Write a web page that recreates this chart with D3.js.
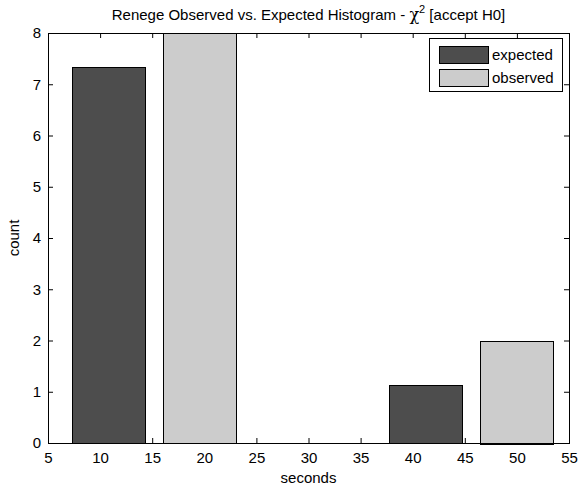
<!DOCTYPE html>
<html>
<head>
<meta charset="utf-8">
<script src="https://cdn.jsdelivr.net/npm/d3@7"></script>
<style>
  body { margin: 0; background: #fff; }
  text { font-family: "Liberation Sans", Arial, sans-serif; fill: #000; font-size: 15px; }
</style>
</head>
<body>
<div id="chart"></div>
<script>
// bar centres (seconds) and counts
var seriesNames = ['expected', 'observed'];
var expectedX = [10.8, 41.2];
var expectedCount = [7.33, 1.13];
var observedX = [19.5, 50];
var observedCount = [8, 2];
var barWidth = 7;
var xTicks = [5, 10, 15, 20, 25, 30, 35, 40, 45, 50, 55];
var yTicks = [0, 1, 2, 3, 4, 5, 6, 7, 8];
var colors = ['#4d4d4d', '#cccccc'];

var width = 579, height = 488;
var mLeft = 48, mRight = 569, mTop = 33, mBottom = 443;

var svg = d3.select('#chart').append('svg')
  .attr('width', width).attr('height', height);

var x = d3.scaleLinear().domain([5, 55]).range([mLeft, mRight]);
var y = d3.scaleLinear().domain([0, 8]).range([mBottom, mTop]);

var series = [
  { name: seriesNames[0], xs: expectedX, vals: expectedCount, color: colors[0] },
  { name: seriesNames[1], xs: observedX, vals: observedCount, color: colors[1] }
];

// axes, MATLAB style: ticks inside on all four sides (drawn under the bars)
var tickLen = 5;
var fmt = d3.format('d');

var xAxis = svg.append('g').attr('transform', 'translate(0,' + mBottom + ')')
  .call(d3.axisBottom(x).tickValues(xTicks).tickFormat(fmt).tickSize(-tickLen).tickSizeOuter(0).tickPadding(9));
var xTop = svg.append('g').attr('transform', 'translate(0,' + mTop + ')')
  .call(d3.axisTop(x).tickValues(xTicks).tickFormat('').tickSize(-tickLen).tickSizeOuter(0));
var yAxis = svg.append('g').attr('transform', 'translate(' + mLeft + ',0)')
  .call(d3.axisLeft(y).tickValues(yTicks).tickFormat(fmt).tickSize(-tickLen).tickSizeOuter(0).tickPadding(7));
var yRight = svg.append('g').attr('transform', 'translate(' + mRight + ',0)')
  .call(d3.axisRight(y).tickValues(yTicks).tickFormat('').tickSize(-tickLen).tickSizeOuter(0));

[xAxis, xTop, yAxis, yRight].forEach(function(g) {
  g.select('.domain').remove();
  g.selectAll('.tick line').attr('stroke', '#000');
  g.selectAll('text').attr('font-size', null).attr('font-family', null).attr('fill', '#000');
});
// end ticks sit on the box edge
xAxis.selectAll('.tick line').filter(function(d) { return d === 5 || d === 55; }).remove();
xTop.selectAll('.tick line').filter(function(d) { return d === 5 || d === 55; }).remove();
yAxis.selectAll('.tick line').filter(function(d) { return d === 0 || d === 8; }).remove();
yRight.selectAll('.tick line').filter(function(d) { return d === 0 || d === 8; }).remove();

series.forEach(function(s) {
  svg.selectAll(null)
    .data(s.vals)
    .enter()
    .append('rect')
    .attr('x', function(d, i) { return Math.round(x(s.xs[i] - barWidth / 2)) + 0.5; })
    .attr('y', function(d) { return Math.round(y(d)) + 0.5; })
    .attr('width', function(d, i) { return Math.round(x(s.xs[i] + barWidth / 2) - x(s.xs[i] - barWidth / 2)); })
    .attr('height', function(d) { return Math.round(y(0) - y(d)); })
    .attr('fill', s.color)
    .attr('stroke', '#000')
    .attr('stroke-width', 1);
});

svg.append('rect')
  .attr('x', mLeft + 0.5).attr('y', mTop + 0.5)
  .attr('width', mRight - mLeft).attr('height', mBottom - mTop)
  .attr('fill', 'none').attr('stroke', '#000');

// labels
var cx = (mLeft + mRight) / 2;
var title = svg.append('text').attr('x', cx).attr('y', 20).attr('text-anchor', 'middle');
title.append('tspan').text('Renege Observed vs. Expected Histogram - ');
title.append('tspan').text('χ').style('font-family', 'DejaVu Serif, serif').style('font-size', '16px');
title.append('tspan').text('2').attr('dy', -7).style('font-size', '11px');
title.append('tspan').text(' [accept H0]').attr('dy', 7);

svg.append('text').attr('x', cx).attr('y', 483).attr('text-anchor', 'middle').text('seconds');
svg.append('text')
  .attr('transform', 'translate(19,' + ((mTop + mBottom) / 2) + ') rotate(-90)')
  .attr('text-anchor', 'middle').text('count');

// legend
var lg = svg.append('g');
lg.append('rect').attr('x', 429.5).attr('y', 38.5).attr('width', 133).attr('height', 53)
  .attr('fill', '#fff').attr('stroke', '#000');
series.forEach(function(s, i) {
  lg.append('rect').attr('x', 439.5).attr('y', 46.5 + i * 23).attr('width', 49).attr('height', 17)
    .attr('fill', s.color).attr('stroke', '#000');
  lg.append('text').attr('x', 492).attr('y', 60 + i * 23).text(s.name);
});
</script>
</body>
</html>
